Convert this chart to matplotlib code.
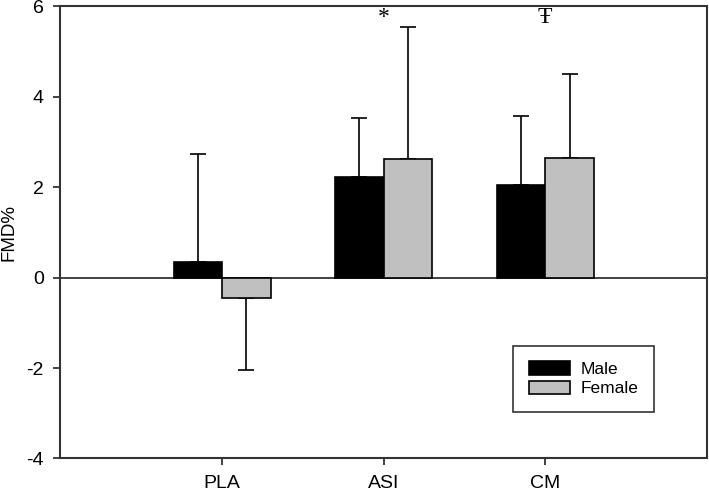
import matplotlib
matplotlib.use("Agg")
import matplotlib.pyplot as plt
import numpy as np

categories = ["PLA", "ASI", "CM"]
male_mean = [0.35, 2.23, 2.06]
male_err = [2.38, 1.30, 1.51]
female_mean = [-0.44, 2.62, 2.65]
female_err = [1.60, 2.93, 1.85]
annotations = {"ASI": "*", "CM": "Ŧ"}
annot_y = 5.76

plt.rcParams['font.family'] = ['Liberation Sans', 'DejaVu Sans']
plt.rcParams['axes.unicode_minus'] = False

fig = plt.figure(figsize=(7.09, 4.91), dpi=100)
ax = fig.add_axes([0.0853, 0.0662, 0.9117, 0.9208])

x = np.arange(1, len(categories) + 1)
w = 0.3

def signed_err(means, errs):
    lower = [e if m < 0 else 0 for m, e in zip(means, errs)]
    upper = [e if m >= 0 else 0 for m, e in zip(means, errs)]
    return [lower, upper]

ax.axhline(0, color='#333333', lw=1.3, zorder=1)

ax.bar(x - w / 2, male_mean, w, color='black', edgecolor='black', lw=1.2,
       label='Male', zorder=3)
ax.bar(x + w / 2, female_mean, w, color='#c0c0c0', edgecolor='black', lw=1.2,
       label='Female', zorder=3)
ax.errorbar(x - w / 2, male_mean, yerr=signed_err(male_mean, male_err),
            fmt='none', ecolor='black', elinewidth=1.2, capsize=6, capthick=1.2, zorder=2)
ax.errorbar(x + w / 2, female_mean, yerr=signed_err(female_mean, female_err),
            fmt='none', ecolor='black', elinewidth=1.2, capsize=6, capthick=1.2, zorder=2)

for cat, sym in annotations.items():
    i = categories.index(cat) + 1
    ax.text(i, annot_y, sym, ha='center', va='center', fontsize=17,
            family=['Liberation Serif', 'DejaVu Serif'])

ax.set_xlim(0, 4)
ax.set_ylim(-4, 6)
ax.set_xticks(x)
ax.set_xticklabels(categories)
ax.set_yticks([-4, -2, 0, 2, 4, 6])
ax.tick_params(axis='both', direction='out', length=5, width=1.3, color='#333333',
               labelsize=14)
ax.tick_params(axis='y', pad=7)
ax.tick_params(axis='x', pad=7)
for s in ax.spines.values():
    s.set_color('#333333')
    s.set_linewidth(1.5)

ax.set_ylabel('FMD%', fontsize=13.5)
ax.yaxis.set_label_coords(-0.066, 0.5)

leg = ax.legend(loc='lower left', bbox_to_anchor=(0.700, 0.103), fontsize=12.5,
                frameon=True, fancybox=False, borderpad=0.9, handlelength=2.4,
                handleheight=0.8, handletextpad=0.57, labelspacing=0.2,
                borderaxespad=0)
leg.get_frame().set_edgecolor('black')
leg.get_frame().set_linewidth(1.2)

fig.savefig('out.png', dpi=100)
